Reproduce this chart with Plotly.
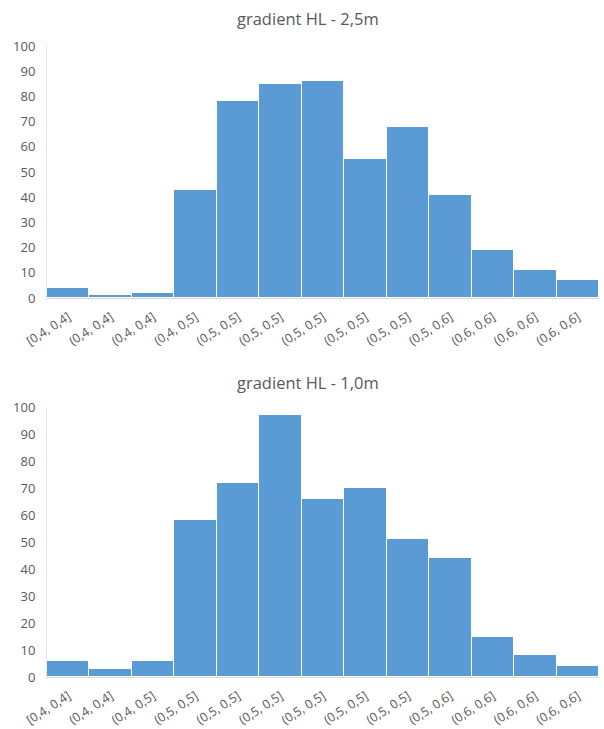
import plotly.graph_objects as go

labels_top = ["[0,4, 0,4]", "(0,4, 0,4]", "(0,4, 0,4]", "(0,4, 0,5]", "(0,5, 0,5]",
              "(0,5, 0,5]", "(0,5, 0,5]", "(0,5, 0,5]", "(0,5, 0,5]", "(0,5, 0,6]",
              "(0,6, 0,6]", "(0,6, 0,6]", "(0,6, 0,6]"]
values_top = [4, 1, 2, 43, 78, 85, 86, 55, 68, 41, 19, 11, 7]

labels_bot = ["[0,4, 0,4]", "(0,4, 0,4]", "(0,4, 0,5]", "(0,5, 0,5]", "(0,5, 0,5]",
              "(0,5, 0,5]", "(0,5, 0,5]", "(0,5, 0,5]", "(0,5, 0,5]", "(0,5, 0,6]",
              "(0,6, 0,6]", "(0,6, 0,6]", "(0,6, 0,6]"]
values_bot = [6, 3, 6, 58, 72, 97, 66, 70, 51, 44, 15, 8, 4]

title_top = "gradient HL - 2,5m"
title_bot = "gradient HL - 1,0m"
y_ticks = [0, 10, 20, 30, 40, 50, 60, 70, 80, 90, 100]

BAR = "#5B9BD5"
TXT = "#595959"
FONT = "Open Sans"
W, H = 604, 729

fig = go.Figure()
fig.add_trace(go.Bar(x=list(range(len(values_top))), y=values_top, marker=dict(color=BAR, line=dict(color="white", width=1)),
                     xaxis="x", yaxis="y", showlegend=False))
fig.add_trace(go.Bar(x=list(range(len(values_bot))), y=values_bot, marker=dict(color=BAR, line=dict(color="white", width=1)),
                     xaxis="x2", yaxis="y2", showlegend=False))

def xax(labels, anchor):
    return dict(domain=[47 / W, 599 / W], anchor=anchor, range=[-0.5, len(labels) - 0.5],
                tickmode="array", tickvals=list(range(len(labels))), ticktext=labels,
                tickangle=-33, tickfont=dict(family=FONT, size=12.5, color=TXT),
                showline=True, linecolor="#D9D9D9", linewidth=1, showgrid=False, zeroline=False,
                ticks="", ticklabelstandoff=6, fixedrange=True)

def yax(top_px, bot_px, anchor):
    return dict(domain=[1 - bot_px / H, 1 - top_px / H], anchor=anchor, range=[0, 100],
                tickmode="array", tickvals=y_ticks, tickfont=dict(family=FONT, size=13, color=TXT),
                showline=True, linecolor="#E8E8E8", linewidth=1, showgrid=False, zeroline=False,
                ticks="", ticklabelstandoff=8)

fig.update_layout(
    width=W, height=H, margin=dict(l=0, r=0, t=0, b=0),
    paper_bgcolor="white", plot_bgcolor="white", bargap=0,
    xaxis=xax(labels_top, "y"), yaxis=yax(46, 298, "x"),
    xaxis2=xax(labels_bot, "y2"), yaxis2=yax(407, 677, "x2"),
    annotations=[
        dict(text=title_top, x=308 / W, y=1 - 19 / H, xref="paper", yref="paper", showarrow=False,
             font=dict(family=FONT, size=16.5, color=TXT), xanchor="center", yanchor="middle"),
        dict(text=title_bot, x=308 / W, y=1 - 382 / H, xref="paper", yref="paper", showarrow=False,
             font=dict(family=FONT, size=16.5, color=TXT), xanchor="center", yanchor="middle"),
    ],
)
fig.update_yaxes(automargin=False)
fig.update_xaxes(automargin=False)
fig.write_html("out.html")
